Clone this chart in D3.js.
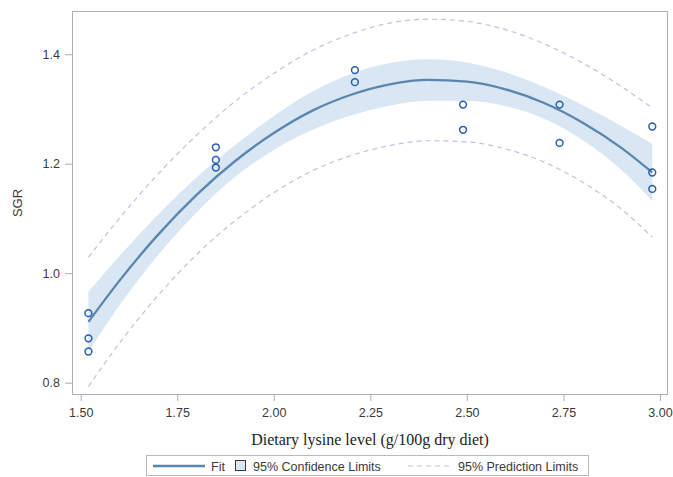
<!DOCTYPE html>
<html>
<head>
<meta charset="utf-8">
<script src="https://cdn.jsdelivr.net/npm/d3@7"></script>
<style>
  html, body { margin: 0; padding: 0; background: #fff; }
  svg { display: block; }
</style>
</head>
<body>
<div id="chart"></div>
<script>
// observed points
var obsX = [1.52, 1.52, 1.52, 1.85, 1.85, 1.85, 2.21, 2.21, 2.49, 2.49, 2.74, 2.74, 2.98, 2.98, 2.98];
var obsY = [0.927, 0.881, 0.857, 1.230, 1.207, 1.193, 1.371, 1.349, 1.308, 1.262, 1.308, 1.238, 1.268, 1.184, 1.154];

// fitted curve and limits
var gridX   = [1.52, 1.60, 1.70, 1.80, 1.90, 2.00, 2.10, 2.20, 2.30, 2.40, 2.50, 2.60, 2.70, 2.80, 2.90, 2.98];
var fitY    = [0.911, 0.986, 1.070, 1.143, 1.205, 1.256, 1.297, 1.326, 1.345, 1.353, 1.350, 1.336, 1.311, 1.275, 1.229, 1.184];
var clLower = [0.856, 0.941, 1.033, 1.111, 1.176, 1.225, 1.262, 1.288, 1.306, 1.315, 1.315, 1.305, 1.282, 1.243, 1.189, 1.132];
var clUpper = [0.966, 1.031, 1.107, 1.175, 1.234, 1.287, 1.332, 1.364, 1.384, 1.391, 1.385, 1.367, 1.340, 1.307, 1.269, 1.236];
var plLower = [0.793, 0.872, 0.959, 1.034, 1.096, 1.147, 1.187, 1.215, 1.233, 1.242, 1.240, 1.227, 1.203, 1.166, 1.117, 1.066];
var plUpper = [1.029, 1.100, 1.181, 1.252, 1.314, 1.365, 1.407, 1.437, 1.457, 1.464, 1.460, 1.445, 1.419, 1.384, 1.341, 1.302];

var xTicks = [1.50, 1.75, 2.00, 2.25, 2.50, 2.75, 3.00];
var yTicks = [0.8, 1.0, 1.2, 1.4];
var legendLabels = ["Fit", "95% Confidence Limits", "95% Prediction Limits"];

var W = 673, H = 477;
var pLeft = 72, pRight = 668, pTop = 11, pBottom = 395;

var svg = d3.select("#chart").append("svg")
  .attr("width", W)
  .attr("height", H);

var x = d3.scaleLinear().domain([1.4775, 3.0207]).range([pLeft, pRight]);
var y = d3.scaleLinear().domain([0.7775, 1.479]).range([pBottom, pTop]);

var grid = gridX.map(function(d, i) {
  return {x: d, fit: fitY[i], cl: clLower[i], cu: clUpper[i], pl: plLower[i], pu: plUpper[i]};
});

// confidence band
svg.append("path")
  .datum(grid)
  .attr("fill", "#d9e6f3")
  .attr("d", d3.area()
    .curve(d3.curveMonotoneX)
    .x(function(d) { return x(d.x); })
    .y0(function(d) { return y(d.cl); })
    .y1(function(d) { return y(d.cu); }));

// prediction limits
["pl", "pu"].forEach(function(k) {
  svg.append("path")
    .datum(grid)
    .attr("fill", "none")
    .attr("stroke", "#bcc2e3")
    .attr("stroke-width", 1.2)
    .attr("stroke-dasharray", "5,4")
    .attr("d", d3.line()
      .curve(d3.curveMonotoneX)
      .x(function(d) { return x(d.x); })
      .y(function(d) { return y(d[k]); }));
});

// fit
svg.append("path")
  .datum(grid)
  .attr("fill", "none")
  .attr("stroke", "#5a86ad")
  .attr("stroke-width", 2.3)
  .attr("d", d3.line()
    .curve(d3.curveMonotoneX)
    .x(function(d) { return x(d.x); })
    .y(function(d) { return y(d.fit); }));

// observations
svg.selectAll("circle.obs")
  .data(obsX)
  .enter()
  .append("circle")
  .attr("class", "obs")
  .attr("cx", function(d) { return x(d); })
  .attr("cy", function(d, i) { return y(obsY[i]); })
  .attr("r", 3.4)
  .attr("fill", "none")
  .attr("stroke", "#2a5db0")
  .attr("stroke-width", 1.5);

// frame
svg.append("rect")
  .attr("x", pLeft + 0.5)
  .attr("y", pTop + 0.5)
  .attr("width", pRight - pLeft - 1)
  .attr("height", pBottom - pTop - 1)
  .attr("fill", "none")
  .attr("stroke", "#a9b0b6");

// axes
var xAxis = svg.append("g")
  .attr("transform", "translate(0," + pBottom + ")")
  .call(d3.axisBottom(x).tickValues(xTicks).tickFormat(d3.format(".2f")).tickSize(6).tickSizeOuter(0));
var yAxis = svg.append("g")
  .attr("transform", "translate(" + pLeft + ",0)")
  .call(d3.axisLeft(y).tickValues(yTicks).tickFormat(d3.format(".1f")).tickSize(7).tickSizeOuter(0));

[xAxis, yAxis].forEach(function(g) {
  g.select(".domain").remove();
  g.selectAll(".tick line").attr("stroke", "#a9b0b6");
  g.selectAll(".tick text")
    .attr("fill", "#3a3a3a")
    .style("font-family", "'Liberation Sans', Arial, sans-serif")
    .style("font-size", "12.5px");
});
xAxis.selectAll(".tick text").attr("y", 13);
yAxis.selectAll(".tick text").attr("x", -12);

// axis titles
svg.append("text")
  .attr("transform", "translate(22," + ((pTop + pBottom) / 2) + ") rotate(-90)")
  .attr("text-anchor", "middle")
  .attr("fill", "#3a3a3a")
  .style("font-family", "'Liberation Sans', Arial, sans-serif")
  .style("font-size", "13px")
  .text("SGR");

svg.append("text")
  .attr("x", (pLeft + pRight) / 2)
  .attr("y", 445)
  .attr("text-anchor", "middle")
  .attr("fill", "#222")
  .style("font-family", "'Liberation Serif', 'Times New Roman', serif")
  .style("font-size", "16px")
  .text("Dietary lysine level (g/100g dry diet)");

// legend
var legend = svg.append("g").attr("class", "legend");
legend.append("rect")
  .attr("x", 146.5).attr("y", 455.5)
  .attr("width", 442).attr("height", 20)
  .attr("fill", "#fff")
  .attr("stroke", "#b5bbc0");

var ly = 466;
legend.append("line")
  .attr("x1", 153).attr("x2", 205).attr("y1", ly).attr("y2", ly)
  .attr("stroke", "#5a86ad").attr("stroke-width", 2.3);
legend.append("rect")
  .attr("x", 235.5).attr("y", ly - 5.5)
  .attr("width", 10).attr("height", 10)
  .attr("fill", "#d9e6f3").attr("stroke", "#3a3a3a").attr("stroke-width", 1);
legend.append("line")
  .attr("x1", 408).attr("x2", 450).attr("y1", ly).attr("y2", ly)
  .attr("stroke", "#bcc2e3").attr("stroke-width", 1.2).attr("stroke-dasharray", "5,4");

var legendX = [211, 253, 458];
legend.selectAll("text")
  .data(legendLabels)
  .enter()
  .append("text")
  .attr("x", function(d, i) { return legendX[i]; })
  .attr("y", ly + 4.5)
  .attr("fill", "#3a3a3a")
  .style("font-family", "'Liberation Sans', Arial, sans-serif")
  .style("font-size", "12.5px")
  .text(function(d) { return d; });
</script>
</body>
</html>
